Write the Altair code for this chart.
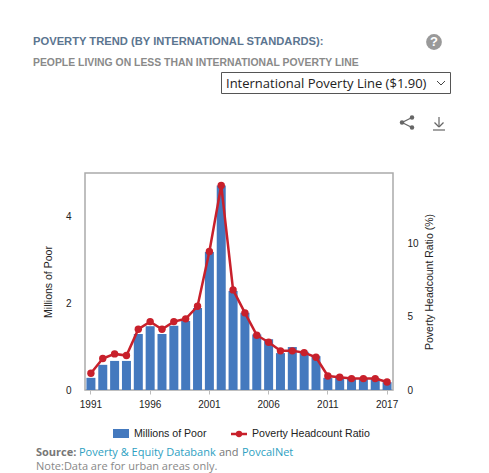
import altair as alt

years = [str(y) for y in range(1991, 2016)] + ["2017"]
tick_years = ["1991", "1996", "2001", "2006", "2011", "2017"]
poor = [0.28, 0.58, 0.67, 0.67, 1.29, 1.47, 1.29, 1.48, 1.59, 1.89, 3.18, 4.71, 2.28,
        1.78, 1.28, 1.17, 0.85, 0.99, 0.88, 0.78, 0.28, 0.28, 0.27, 0.27, 0.27, 0.18]
ratio = [1.15, 2.15, 2.47, 2.36, 4.16, 4.68, 4.16, 4.68, 4.87, 5.73, 9.48, 14.0, 6.85,
         5.28, 3.75, 3.27, 2.68, 2.68, 2.56, 2.24, 0.96, 0.87, 0.78, 0.78, 0.78, 0.55]
rows = [{"year": y, "poor": p, "ratio": r} for y, p, r in zip(years, poor, ratio)]

L, T = 85, 173
W, H = 308, 217
BLUE = "#4479BE"
RED = "#C8202B"
ONE = alt.Data(values=[{}])
SANS = "Liberation Sans"
OPEN = "Open Sans"


def text(s, x, y, size=10, color="#222222", font=SANS, bold=False, align="left"):
    return alt.Chart(ONE).mark_text(
        text=s, fontSize=size, color=color, font=font, align=align, baseline="middle",
        fontWeight="bold" if bold else "normal", clip=False,
    ).encode(x=alt.value(x - L), y=alt.value(y - T))


def seg(x1, y1, x2, y2, color, w=1.5):
    return alt.Chart(ONE).mark_rule(color=color, strokeWidth=w).encode(
        x=alt.value(x1 - L), x2=alt.value(x2 - L), y=alt.value(y1 - T), y2=alt.value(y2 - T))


def box(x1, y1, x2, y2, fill=None, stroke=None):
    kw = {}
    if fill:
        kw["fill"] = fill
    else:
        kw["fillOpacity"] = 0
    if stroke:
        kw["stroke"] = stroke
        kw["strokeWidth"] = 1
    return alt.Chart(ONE).mark_rect(**kw).encode(
        x=alt.value(x1 - L), x2=alt.value(x2 - L), y=alt.value(y1 - T), y2=alt.value(y2 - T))


def dot(x, y, size, color):
    return alt.Chart(ONE).mark_point(filled=True, size=size, color=color, opacity=1).encode(
        x=alt.value(x - L), y=alt.value(y - T))


base = alt.Chart(alt.Data(values=rows))
x_enc = alt.X("year:O", sort=None, title=None,
              scale=alt.Scale(domain=years, paddingInner=0.24, paddingOuter=0.12),
              axis=alt.Axis(values=tick_years, labelAngle=0, domain=False, tickColor="#bbbbbb",
                            tickSize=4, labelFont=SANS, labelFontSize=10, labelColor="#222222",
                            labelPadding=5, grid=False))

bars = base.mark_bar(color=BLUE).encode(
    x=x_enc,
    y=alt.Y("poor:Q", scale=alt.Scale(domain=[0, 5], nice=False),
            axis=alt.Axis(values=[0, 2, 4], orient="left", title="Millions of Poor", domain=False,
                          ticks=False, grid=False, labelFont=SANS, labelFontSize=10,
                          labelColor="#222222", labelPadding=14, titleFont=SANS, titleFontSize=10.5,
                          titleFontWeight="normal", titleColor="#222222", titlePadding=12)),
)
y2_enc = alt.Y("ratio:Q", scale=alt.Scale(domain=[0, 14.85], nice=False),
               axis=alt.Axis(values=[0, 5, 10], orient="right", title="Poverty Headcount Ratio (%)",
                             domain=False, ticks=False, grid=False, labelFont=SANS, labelFontSize=10,
                             labelColor="#222222", labelPadding=14, titleFont=SANS, titleFontSize=10.5,
                             titleFontWeight="normal", titleColor="#222222", titlePadding=16,
                             titleAngle=270, titleBaseline="bottom"))
line = base.mark_line(color=RED, strokeWidth=2.5,
                      point=alt.OverlayMarkDef(filled=True, size=55, color=RED, opacity=1)).encode(
    x=alt.X("year:O", sort=None), y=y2_enc)

data_layers = alt.layer(bars, line).resolve_scale(y="independent")

annotations = [
    text("POVERTY TREND (BY INTERNATIONAL STANDARDS):", 33, 42, 11.2, "#5B7590", bold=True),
    text("PEOPLE LIVING ON LESS THAN INTERNATIONAL POVERTY LINE", 33, 63, 10.4, "#8A8A8A", bold=True),
    dot(434, 42, 250, "#999999"),
    text("?", 434, 42, 13, "#ffffff", bold=True, align="center"),
    box(221.5, 72.5, 450.5, 93.5, fill="#ffffff", stroke="#555555"),
    text("International Poverty Line ($1.90)", 226, 84, 13, "#222222", font=OPEN),
    seg(437, 81, 441, 85, "#444444", 1),
    seg(441, 85, 445, 81, "#444444", 1),
    seg(402, 122.5, 412, 117.5, "#666666", 1.3),
    seg(402, 122.5, 412, 127.5, "#666666", 1.3),
    dot(402, 122.5, 20, "#666666"),
    dot(412, 117.5, 20, "#666666"),
    dot(412, 127.5, 20, "#666666"),
    seg(439, 117, 439, 127, "#666666", 1.2),
    seg(434.5, 122.5, 439, 127, "#666666", 1.2),
    seg(439, 127, 443.5, 122.5, "#666666", 1.2),
    seg(433, 130, 445, 130, "#666666", 1.2),
    box(113, 429, 129, 438, fill=BLUE),
    text("Millions of Poor", 134, 434, 10.6),
    seg(231, 434, 247, 434, RED, 2.5),
    dot(239, 434, 40, RED),
    text("Poverty Headcount Ratio", 252, 434, 10.6),
    text("Source:", 36, 453, 11, "#777777", font=OPEN, bold=True),
    text("Poverty & Equity Databank", 79, 453, 11, "#2E9FC2", font=OPEN),
    text("and", 219, 453, 11, "#777777", font=OPEN),
    text("PovcalNet", 242, 453, 11, "#2E9FC2", font=OPEN),
    text("Note:Data are for urban areas only.", 36, 467, 11, "#888888", font=OPEN),
]

chart = alt.layer(data_layers, *annotations).properties(
    width=W, height=H,
    autosize=alt.AutoSizeParams(type="none"),
    padding={"left": L - 8, "top": T - 8, "right": 473 - (L - 8) - W, "bottom": 465 - (T - 8) - H},
    background="#ffffff",
).configure_view(stroke="#aaaaaa", strokeWidth=1.5)

chart.save("out.html", embed_options={"renderer": "svg", "actions": False})
